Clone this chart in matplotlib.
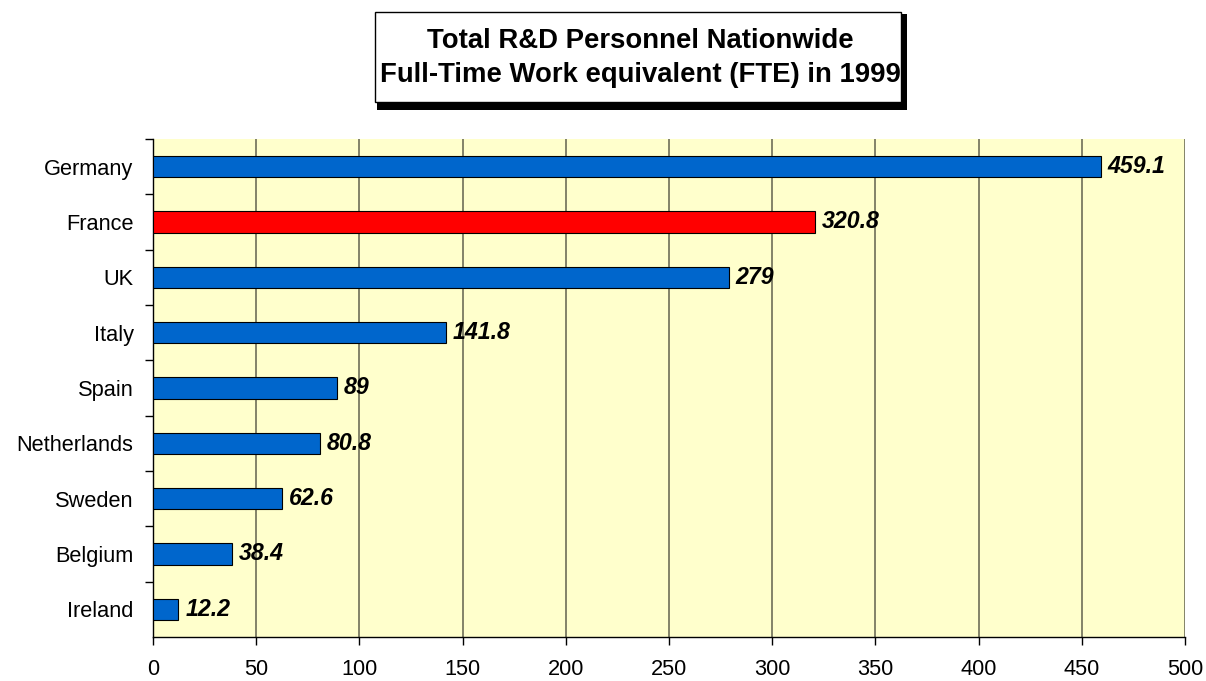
import matplotlib
matplotlib.use("Agg")
import matplotlib.pyplot as plt
from matplotlib.patches import Rectangle

plt.rcParams['font.family'] = ['Liberation Sans', 'DejaVu Sans']

countries = ["Germany", "France", "UK", "Italy", "Spain", "Netherlands",
             "Sweden", "Belgium", "Ireland"]
personnel = [459.1, 320.8, 279, 141.8, 89, 80.8, 62.6, 38.4, 12.2]
value_labels = ["459.1", "320.8", "279", "141.8", "89", "80.8", "62.6", "38.4", "12.2"]
highlight = "France"
x_ticks = [0, 50, 100, 150, 200, 250, 300, 350, 400, 450, 500]

W, H = 1206, 681
fig = plt.figure(figsize=(W / 100, H / 100), dpi=100)
ax = fig.add_axes([153 / W, 1 - 637 / H, 1032 / W, 498 / H])
ax.set_facecolor("#FFFFCC")

ypos = list(range(len(countries)))[::-1]
colors = ["#FF0000" if c == highlight else "#0066CC" for c in countries]
ax.barh(ypos, personnel, height=0.39, color=colors, edgecolor="black",
        linewidth=0.8, zorder=3)

for y, v, lab in zip(ypos, personnel, value_labels):
    ax.annotate(lab, (v, y), xytext=(5, 0), textcoords="offset points",
                va="center", ha="left", fontsize=16.7, fontweight="bold",
                fontstyle="italic", zorder=4)

ax.set_xlim(0, 500)
ax.set_ylim(-0.5, len(countries) - 0.5)
ax.set_xticks(x_ticks)
ax.set_xticklabels([str(t) for t in x_ticks], fontsize=15.7)
ax.xaxis.grid(True, color="#62624E", linewidth=1.1, zorder=1)
ax.set_axisbelow(True)

ax.set_yticks(ypos)
ax.set_yticklabels(countries, fontsize=15.7)
ax.tick_params(axis="y", length=0, pad=14)
ax.set_yticks([y + 0.5 for y in range(len(countries))], minor=True)
ax.tick_params(axis="y", which="minor", length=5.5, width=1, direction="out")
ax.tick_params(axis="x", length=6, width=1, direction="out", pad=10)

for s in ["top", "right"]:
    ax.spines[s].set_visible(False)
ax.spines["left"].set_linewidth(1)
ax.spines["bottom"].set_linewidth(1)

# Title box with drop shadow
fig.patches.append(Rectangle((377 / W, 1 - 110 / H), 530 / W, 96 / H,
                             transform=fig.transFigure, facecolor="black",
                             edgecolor="none", zorder=1))
fig.patches.append(Rectangle((375 / W, 1 - 102 / H), 526 / W, 90 / H,
                             transform=fig.transFigure, facecolor="white",
                             edgecolor="black", linewidth=1, zorder=2))
fig.text(640.5 / W, 1 - 58 / H,
         "Total R&D Personnel Nationwide\nFull-Time Work equivalent (FTE) in 1999",
         ha="center", va="center", fontsize=19.8, fontweight="bold",
         linespacing=1.42, zorder=3)

fig.savefig("out.png", dpi=100)
